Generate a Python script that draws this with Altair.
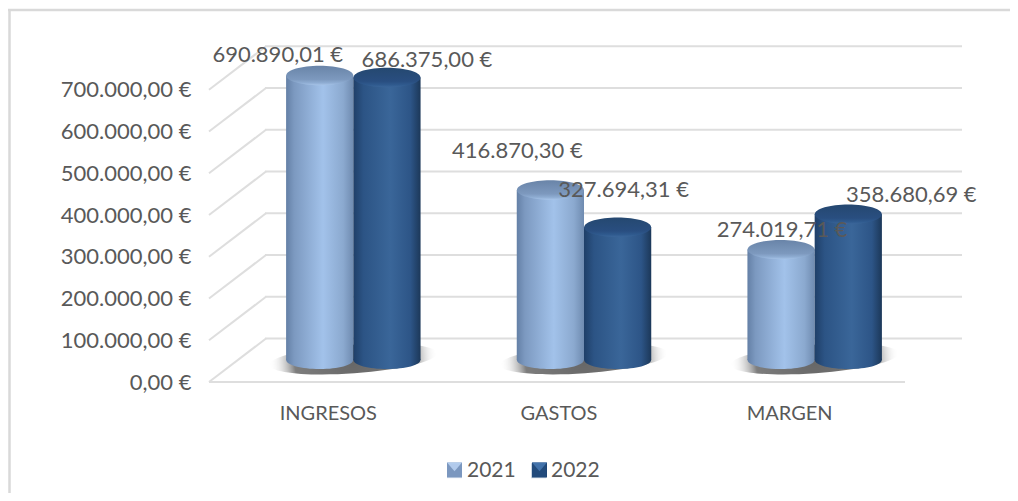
import altair as alt
import pandas as pd

categories = ["INGRESOS", "GASTOS", "MARGEN"]
series = ["2021", "2022"]
values_2021 = [690890.01, 416870.30, 274019.71]
values_2022 = [686375.00, 327694.31, 358680.69]
labels_2021 = ["690.890,01 €", "416.870,30 €", "274.019,71 €"]
labels_2022 = ["686.375,00 €", "327.694,31 €", "358.680,69 €"]
ticks = [0, 100000, 200000, 300000, 400000, 500000, 600000, 700000]

rows = []
for i, c in enumerate(categories):
    rows.append({"cat": c, "serie": "2021", "value": values_2021[i], "label": labels_2021[i], "base": 0})
    rows.append({"cat": c, "serie": "2022", "value": values_2022[i], "label": labels_2022[i], "base": 0})
df = pd.DataFrame(rows)
tick_df = pd.DataFrame({"t": ticks})
floor_df = pd.DataFrame({"cat": categories, "base": [0, 0, 0]})

W, H = 692, 334
FONT = "Lato"
TXT = "#595959"
GRID = "#dedede"
FS = 22
DEPTH = -43.5
SHIFT = 25

xs = alt.Scale(domain=categories, paddingInner=0.417, paddingOuter=0.2085, range=[SHIFT, W + SHIFT])
ys = alt.Scale(domain=[0, 800000], nice=False)
x_enc = alt.X("cat:N", scale=xs, sort=categories, axis=alt.Axis(
    title=None, domain=False, ticks=False, labelAngle=0, labelPadding=21, labelOffset=-SHIFT,
    labelFont=FONT, labelFontSize=FS - 2, labelColor=TXT))
y_axis = alt.Axis(
    title=None, domain=False, ticks=False, grid=False, values=ticks, labelPadding=22,
    labelFont=FONT, labelFontSize=FS, labelColor=TXT,
    labelExpr="replace(replace(replace(format(datum.value,',.2f'),/,/g,'#'),/\\./g,','),/#/g,'.') + ' €'")
y_enc = alt.Y("value:Q", scale=ys, axis=y_axis, stack=None)
y_base = alt.Y("base:Q", scale=ys, axis=y_axis)
y_tick = alt.Y("t:Q", scale=ys, axis=y_axis)
off = alt.XOffset("serie:N", sort=series)


def ellipse(ry):
    return f"M-1,0A1,{ry},0,1,0,1,0A1,{ry},0,1,0,-1,0Z"


def hgrad(stops):
    return alt.LinearGradient(gradient="linear", x1=0, x2=1, y1=0, y2=0,
                              stops=[alt.GradientStop(offset=o, color=c) for o, c in stops])


def vgrad(stops):
    return alt.LinearGradient(gradient="linear", x1=0, x2=0, y1=0, y2=1,
                              stops=[alt.GradientStop(offset=o, color=c) for o, c in stops])


body = {
    "2021": hgrad([(0, "#6480a6"), (0.12, "#7c99c0"), (0.55, "#a2c2ea"), (0.85, "#8ba9cf"), (1, "#6f8bb0")]),
    "2022": hgrad([(0, "#1f3f68"), (0.15, "#2c5485"), (0.55, "#3a6699"), (0.85, "#2d5587"), (1, "#1c3859")]),
}
top = {
    "2021": vgrad([(0, "#6984a8"), (0.7, "#7d99be"), (0.88, "#8fadd3"), (1, "#a7c4e8")]),
    "2022": vgrad([(0, "#254870"), (0.7, "#294e80"), (0.88, "#2f5a8e"), (1, "#3b669a")]),
}

back = alt.Chart(tick_df).mark_rule(color=GRID, strokeWidth=2, yOffset=DEPTH).encode(
    x=alt.value(52), x2=alt.value(749), y=y_tick)
side = alt.Chart(tick_df.assign(t2=tick_df["t"])).mark_rule(
    color=GRID, strokeWidth=2, y2Offset=DEPTH).encode(
    x=alt.value(-4), x2=alt.value(53), y=y_tick, y2="t2:Q")
front = alt.Chart(pd.DataFrame({"t": [0]})).mark_rule(color=GRID, strokeWidth=2).encode(
    x=alt.value(-4), x2=alt.value(692), y=y_tick)
frame_top = alt.Chart(pd.DataFrame({"t": [0]})).mark_rule(color="#d9d9d9", strokeWidth=2.5).encode(
    x=alt.value(-205), x2=alt.value(797), y=alt.value(-38))
frame_left = alt.Chart(pd.DataFrame({"t": [0]})).mark_rule(color="#d9d9d9", strokeWidth=2.5).encode(
    x=alt.value(-203.5), y=alt.value(-39), y2=alt.value(445))

shadow_fill = alt.RadialGradient(gradient="radial", stops=[
    alt.GradientStop(offset=0, color="#666666"),
    alt.GradientStop(offset=0.7, color="#7d7d7d"),
    alt.GradientStop(offset=1, color="rgba(255,255,255,0)"),
])
shadow = alt.Chart(floor_df).mark_point(
    filled=True, opacity=1, strokeWidth=0, fill=shadow_fill, yOffset=-23, size=28224,
    shape="M-1,0.07A1,0.17,-4,1,1,1,-0.07A1,0.17,-4,1,1,-1,0.07Z",
).encode(x=x_enc, y=y_base)

# Invisible points that feed the legend
legend_layer = alt.Chart(df).mark_point(filled=True, size=0, opacity=1).encode(
    x=x_enc, xOffset=off, y=y_enc,
    color=alt.Color("serie:N", scale=alt.Scale(domain=series, range=["#8eadd3", "#2d5a8f"]),
                    legend=alt.Legend(
                        title=None, orient="none", legendX=231, legendY=412, direction="horizontal",
                        symbolType="square", symbolSize=225, symbolOpacity=0.25, symbolStrokeWidth=0,
                        labelFont=FONT, labelFontSize=FS - 1, labelColor=TXT, labelOffset=2,
                        columnPadding=12)))

layers = [frame_top, frame_left, back, side, front, shadow, legend_layer]
for s in series:
    d = df[df["serie"] == s]
    layers.append(alt.Chart(d).mark_point(
        filled=True, opacity=1, strokeWidth=0, fill=body[s], yOffset=-22,
        size=4489, shape=ellipse(0.27)).encode(x=x_enc, y=y_base, xOffset=off))
    layers.append(alt.Chart(d).mark_bar(fill=body[s], yOffset=-18).encode(
        x=x_enc, y=y_enc, y2=alt.value(H - 22), xOffset=off))
    layers.append(alt.Chart(d).mark_point(
        filled=True, opacity=1, strokeWidth=0, fill=top[s], yOffset=-18,
        size=4489, shape=ellipse(0.29)).encode(x=x_enc, y=y_enc, xOffset=off))

label_shift = {
    ("INGRESOS", "2021"): (-42, -21), ("INGRESOS", "2022"): (40, -17),
    ("GASTOS", "2021"): (-33, -39), ("GASTOS", "2022"): (6, -37),
    ("MARGEN", "2021"): (1, -20), ("MARGEN", "2022"): (63, -19),
}
for (c, s), (dx, dy) in label_shift.items():
    d = df[(df["cat"] == c) & (df["serie"] == s)]
    layers.append(alt.Chart(d).mark_text(
        font=FONT, fontSize=FS, color=TXT, align="center", baseline="middle",
        dx=dx, yOffset=-18 + dy).encode(
        x=x_enc, y=y_enc, xOffset=off, text="label:N"))

# Bevelled swatches under the legend's translucent symbols
for px, side_col, light in [(241.5, "#7590b8", "#bcd5f5"), (326.5, "#1f4676", "#4a7ab3")]:
    one = pd.DataFrame({"t": [0]})
    layers.append(alt.Chart(one).mark_point(
        filled=True, opacity=1, strokeWidth=0, fill=side_col, size=225,
        shape="square").encode(x=alt.value(px), y=alt.value(422)))
    layers.append(alt.Chart(one).mark_point(
        filled=True, opacity=1, strokeWidth=0, fill=light, size=225,
        shape="M-1,-1L1,-1L0,0.15Z").encode(x=alt.value(px), y=alt.value(422)))

chart = alt.layer(*layers).properties(
    width=W, height=H,
    autosize=alt.AutoSizeParams(type="none"),
    padding={"left": 205, "top": 40, "right": 105, "bottom": 111},
    background="white",
).configure_view(stroke=None)

chart.save("out.html", embed_options={"renderer": "svg", "actions": False})
